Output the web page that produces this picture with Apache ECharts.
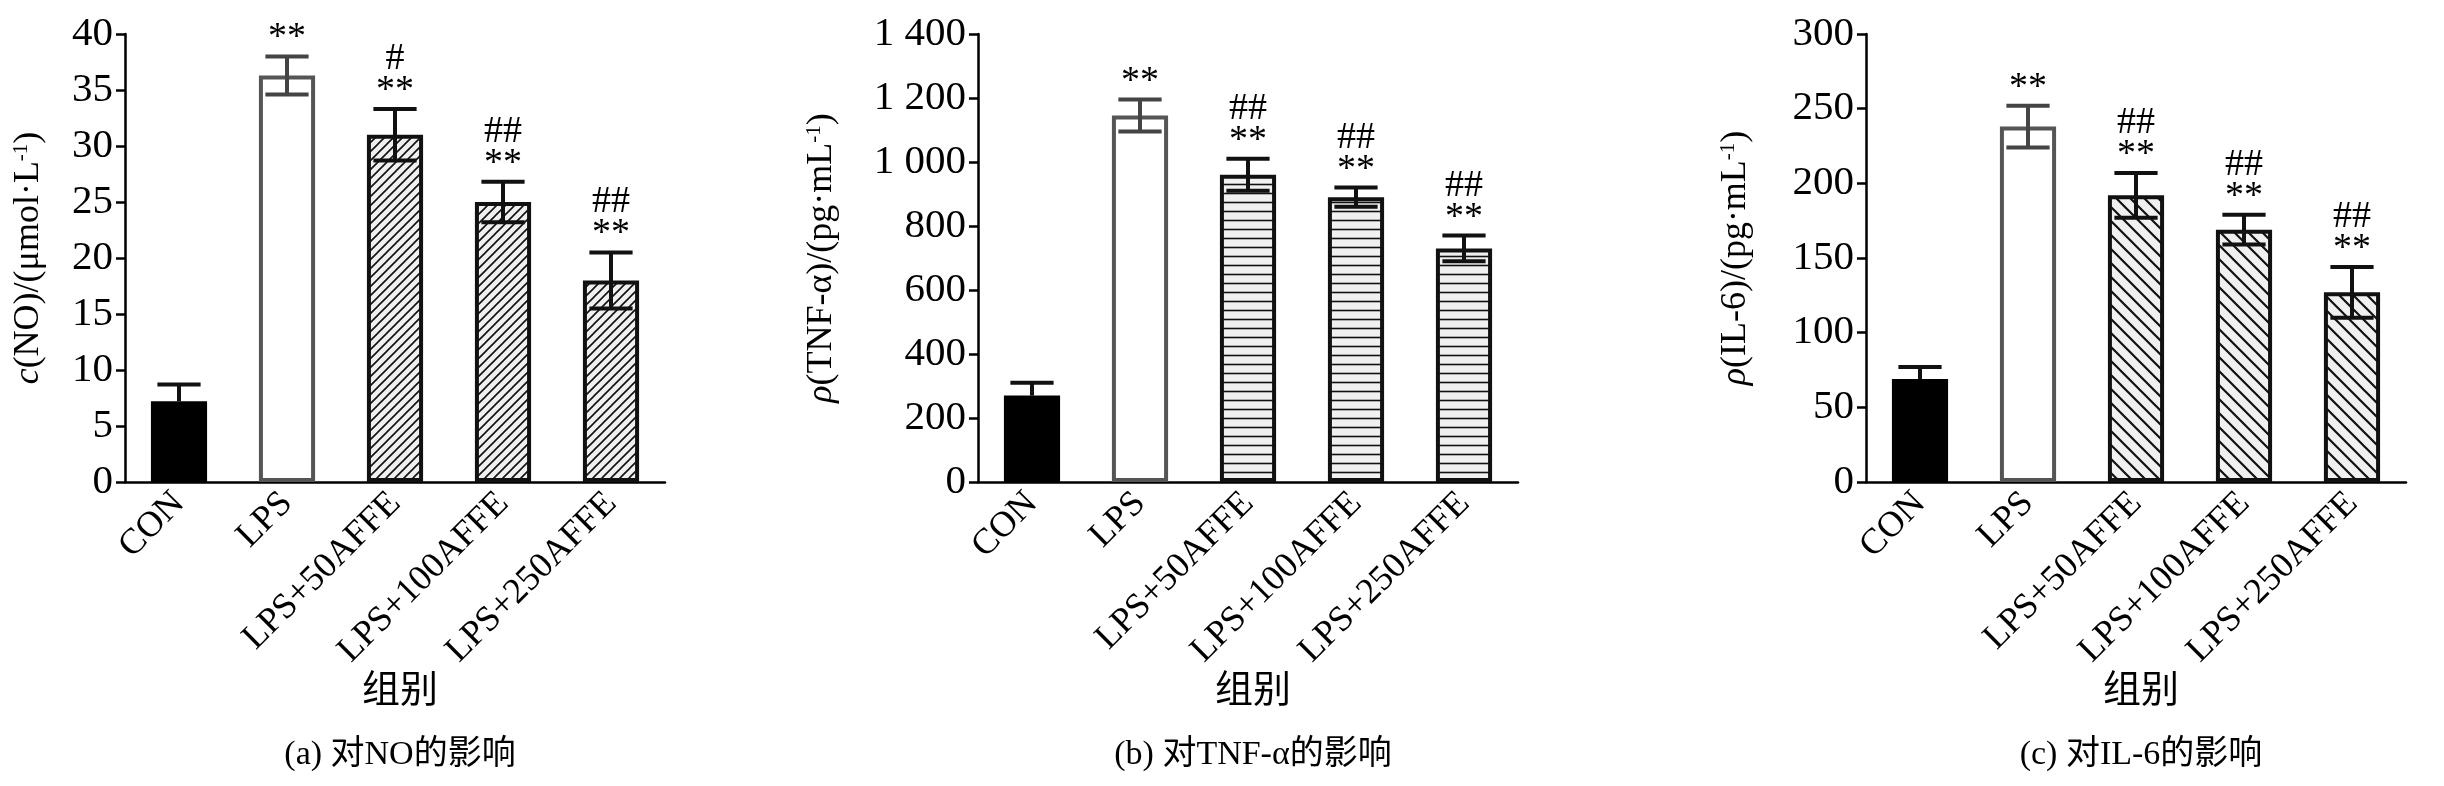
<!DOCTYPE html>
<html>
<head>
<meta charset="utf-8">
<script src="https://cdn.jsdelivr.net/npm/echarts@6/dist/echarts.min.js"></script>
<style>
html, body { margin: 0; padding: 0; background: #fff; }
#main { width: 2444px; height: 786px; }
</style>
</head>
<body>
<div id="main"></div>
<script>
var categories = ['CON', 'LPS', 'LPS+50AFFE', 'LPS+100AFFE', 'LPS+250AFFE']
var noValues = [7.2, 36.3, 31.0, 25.0, 18.0]
var noErrors = [1.5, 1.7, 2.3, 1.8, 2.5]
var tnfValues = [270, 1145, 960, 890, 730]
var tnfErrors = [40, 50, 50, 30, 40]
var il6Values = [69, 238, 192, 169, 127]
var il6Errors = [8, 14, 15, 10, 17]
var noMarks = ['', '**', '#\n**', '##\n**', '##\n**']
var tnfMarks = ['', '**', '##\n**', '##\n**', '##\n**']
var il6Marks = ['', '**', '##\n**', '##\n**', '##\n**']

var SERIF = '"Liberation Serif", "Noto Sans CJK SC", serif'

// hatch tiles
function makePattern(kind) {
  var size = kind === 'back' ? 14 : 9
  var c = document.createElement('canvas')
  c.width = size
  c.height = size
  var ctx = c.getContext('2d')
  ctx.fillStyle = '#f0f0f0'
  ctx.fillRect(0, 0, size, size)
  ctx.strokeStyle = '#111'
  ctx.lineWidth = kind === 'back' ? 2.2 : 1.6
  ctx.beginPath()
  if (kind === 'horiz') {
    ctx.moveTo(0, size / 2)
    ctx.lineTo(size, size / 2)
  } else if (kind === 'fwd') {
    ctx.moveTo(-1, size + 1); ctx.lineTo(size + 1, -1)
    ctx.moveTo(-1, 1); ctx.lineTo(1, -1)
    ctx.moveTo(size - 1, size + 1); ctx.lineTo(size + 1, size - 1)
  } else {
    ctx.moveTo(-1, -1); ctx.lineTo(size + 1, size + 1)
    ctx.moveTo(size - 1, -1); ctx.lineTo(size + 1, 1)
    ctx.moveTo(-1, size - 1); ctx.lineTo(1, size + 1)
  }
  ctx.stroke()
  return { image: c, repeat: 'repeat' }
}

var panels = [
  { left: 125, values: noValues, errors: noErrors, marks: noMarks, max: 40, interval: 5,
    pattern: makePattern('fwd'), name: '{i|c}(NO)/(μmol·L{s|-1})', caption: '(a) 对NO的影响' },
  { left: 978, values: tnfValues, errors: tnfErrors, marks: tnfMarks, max: 1400, interval: 200,
    pattern: makePattern('horiz'), name: '{i|ρ}(TNF-α)/(pg·mL{s|-1})', caption: '(b) 对TNF-α的影响' },
  { left: 1866, values: il6Values, errors: il6Errors, marks: il6Marks, max: 300, interval: 50,
    pattern: makePattern('back'), name: '{i|ρ}(IL-6)/(pg·mL{s|-1})', caption: '(c) 对IL-6的影响' }
]
var plotWidth = 540

var grids = [], xAxes = [], yAxes = [], series = [], titles = []
panels.forEach(function (p, k) {
  grids.push({ left: p.left, width: plotWidth, top: 34, bottom: 304 })
  xAxes.push({
    type: 'category', gridIndex: k, data: categories,
    axisLine: { lineStyle: { color: '#000', width: 2.5 } },
    axisTick: { show: false },
    axisLabel: { rotate: 45, color: '#000', fontFamily: SERIF, fontSize: 36, margin: 16, interval: 0 }
  })
  yAxes.push({
    type: 'value', gridIndex: k, min: 0, max: p.max, interval: p.interval,
    splitLine: { show: false },
    axisLine: { show: true, lineStyle: { color: '#000', width: 2.5 } },
    axisTick: { show: true, length: 9, lineStyle: { color: '#000', width: 2.5 } },
    axisLabel: {
      color: '#000', fontFamily: SERIF, fontSize: 41, margin: 12,
      formatter: function (v) { return v >= 1000 ? Math.floor(v / 1000) + ' ' + String(v % 1000).padStart(3, '0') : String(v) }
    },
    name: p.name, nameLocation: 'middle', nameRotate: 90, nameGap: k === 1 ? 138 : (k === 2 ? 112 : 78),
    nameTextStyle: {
      color: '#000', fontFamily: SERIF, fontSize: 36,
      rich: { i: { fontStyle: 'italic', fontSize: 36, fontFamily: SERIF }, s: { fontSize: 21, verticalAlign: 'top', fontFamily: SERIF } }
    }
  })
  series.push({
    type: 'bar', xAxisIndex: k, yAxisIndex: k, barWidth: '52%',
    data: p.values.map(function (v, i) {
      var style
      if (i === 0) style = { color: '#000', borderColor: '#000', borderWidth: 2 }
      else if (i === 1) style = { color: '#fff', borderColor: '#555', borderWidth: 4 }
      else style = { color: p.pattern, borderColor: '#111', borderWidth: 4 }
      return { value: v, itemStyle: style }
    })
  })
  series.push({
    type: 'custom', xAxisIndex: k, yAxisIndex: k, z: 10,
    data: p.values.map(function (v, i) { return [i, v, p.errors[i]] }),
    renderItem: function (params, api) {
      var i = api.value(0), v = api.value(1), e = api.value(2)
      var top = api.coord([i, v + e]), bot = api.coord([i, v - e])
      var half = api.size([1, 0])[0] * 0.2
      var col = i === 1 ? '#444' : '#111'
      var st = { stroke: col, lineWidth: 4 }
      var lowY = i === 0 ? api.coord([i, v])[1] : bot[1]
      var children = [
        { type: 'line', shape: { x1: top[0], y1: top[1], x2: top[0], y2: lowY }, style: st },
        { type: 'line', shape: { x1: top[0] - half, y1: top[1], x2: top[0] + half, y2: top[1] }, style: st }
      ]
      if (i !== 0) children.push({ type: 'line', shape: { x1: bot[0] - half, y1: bot[1], x2: bot[0] + half, y2: bot[1] }, style: st })
      var mark = p.marks[i]
      if (mark) children.push({
        type: 'text', x: top[0], y: top[1] - 2,
        style: { text: mark, fontFamily: SERIF, fontSize: 38, lineHeight: 32, fill: '#000', align: 'center', verticalAlign: 'bottom' }
      })
      return { type: 'group', children: children }
    }
  })
  var cx = p.left + plotWidth / 2
  titles.push({ text: '组别', left: cx, top: 668, textAlign: 'center',
    textStyle: { fontFamily: SERIF, fontSize: 38, fontWeight: 'normal', color: '#000' } })
  titles.push({ text: p.caption, left: cx, top: 733, textAlign: 'center',
    textStyle: { fontFamily: SERIF, fontSize: 34, fontWeight: 'normal', color: '#000' } })
})

var myChart = echarts.init(document.getElementById('main'))
myChart.setOption({
  animation: false,
  title: titles,
  grid: grids,
  xAxis: xAxes,
  yAxis: yAxes,
  series: series
})
</script>
</body>
</html>
